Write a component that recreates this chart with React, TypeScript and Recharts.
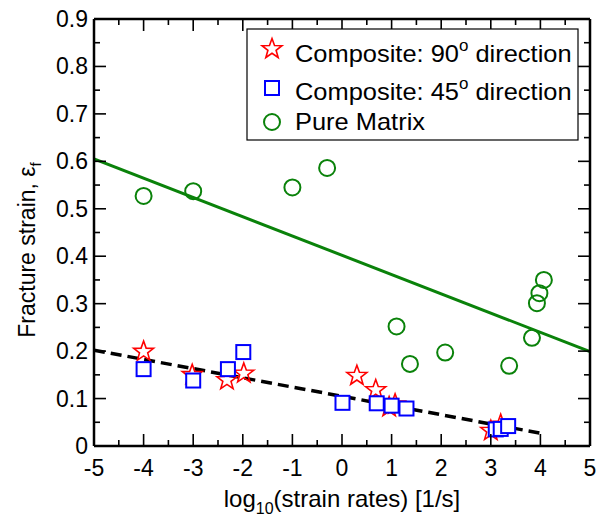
import React from 'react';
import { ComposedChart, XAxis, YAxis, Scatter, Line } from 'recharts';

const FONT = '"Liberation Sans", Arial, Helvetica, sans-serif';

// ---- tick values / labels ----
const xTicks = [-5, -4.5, -4, -3.5, -3, -2.5, -2, -1.5, -1, -0.5, 0, 0.5, 1, 1.5, 2, 2.5, 3, 3.5, 4, 4.5, 5];
const xMajorTicks = [-5, -4, -3, -2, -1, 0, 1, 2, 3, 4, 5];
const yTicks = [0, 0.05, 0.1, 0.15, 0.2, 0.25, 0.3, 0.35, 0.4, 0.45, 0.5, 0.55, 0.6, 0.65, 0.7, 0.75, 0.8, 0.85, 0.9];
const yMajorTicks = [0, 0.1, 0.2, 0.3, 0.4, 0.5, 0.6, 0.7, 0.8, 0.9];
const yTickLabels = ['0', '0.1', '0.2', '0.3', '0.4', '0.5', '0.6', '0.7', '0.8', '0.9'];

// ---- series ----
const dir90X = [-4, -3.02, -2.32, -1.98, 0.3, 0.68, 0.95, 1.07, 3.0, 3.2];
const dir90Y = [0.199, 0.15, 0.139, 0.153, 0.148, 0.118, 0.082, 0.088, 0.032, 0.045];

const dir45X = [-4, -3, -2.3, -1.99, 0.01, 0.7, 1.0, 1.3, 3.1, 3.2, 3.35];
const dir45Y = [0.162, 0.138, 0.162, 0.198, 0.091, 0.09, 0.085, 0.079, 0.035, 0.036, 0.042];

const matrixX = [-4, -3, -1, -0.3, 1.1, 1.37, 2.08, 3.37, 3.83, 3.93, 3.98, 4.07];
const matrixY = [0.527, 0.537, 0.545, 0.586, 0.252, 0.173, 0.197, 0.169, 0.228, 0.301, 0.322, 0.35];

const matrixFitX = [-5, 5];
const matrixFitY = [0.605, 0.199];
const compositeFitX = [-5, 4];
const compositeFitY = [0.202, 0.027];

const toPoints = (xs: number[], ys: number[]) => xs.map((x, i) => ({ x, y: ys[i] }));

const dir90Data = toPoints(dir90X, dir90Y);
const dir45Data = toPoints(dir45X, dir45Y);
const matrixData = toPoints(matrixX, matrixY);
const matrixFit = toPoints(matrixFitX, matrixFitY);
const compositeFit = toPoints(compositeFitX, compositeFitY);

const RED = '#ff0000';
const BLUE = '#0000ff';
const GREEN = '#0a820a';

const isXMajor = (v: number) => xMajorTicks.some((m) => Math.abs(m - v) < 1e-9);
const yMajorIndex = (v: number) => yMajorTicks.findIndex((m) => Math.abs(m - v) < 1e-9);

function starPath(cx: number, cy: number, ro: number, ri: number) {
  const pts: string[] = [];
  for (let i = 0; i < 10; i++) {
    const r = i % 2 === 0 ? ro : ri;
    const a = -Math.PI / 2 + (i * Math.PI) / 5;
    pts.push(`${cx + r * Math.cos(a)},${cy + r * Math.sin(a)}`);
  }
  return 'M' + pts.join('L') + 'Z';
}

const StarShape = (p: any) => (
  <path d={starPath(p.cx, p.cy, 10.5, 4.3)} fill="none" stroke={RED} strokeWidth={1.6} />
);
const SquareShape = (p: any) => (
  <rect x={p.cx - 7} y={p.cy - 7} width={14} height={14} fill="#fff" stroke={BLUE} strokeWidth={2} />
);
const CircleShape = (p: any) => (
  <circle cx={p.cx} cy={p.cy} r={8} fill="none" stroke={GREEN} strokeWidth={2} />
);

const MAJOR = 12;
const MINOR = 6;

const BottomTick = (p: any) => {
  const v = p.payload.value;
  const major = isXMajor(v);
  const x = Number(p.x);
  const y = Number(p.y);
  return (
    <g>
      <path d={`M${x},${y}V${y - (major ? MAJOR : MINOR)}`} style={{ stroke: '#000', strokeWidth: 1.6, fill: 'none' }} />
      {major && (
        <text x={x} y={y + 30} textAnchor="middle" fontSize={23} fontFamily={FONT} fill="#000" stroke="none">
          {String(v)}
        </text>
      )}
    </g>
  );
};
const TopTick = (p: any) => {
  const major = isXMajor(p.payload.value);
  const x = Number(p.x);
  const y = Number(p.y);
  return <path d={`M${x},${y}V${y + (major ? MAJOR : MINOR)}`} style={{ stroke: '#000', strokeWidth: 1.6, fill: 'none' }} />;
};
const LeftTick = (p: any) => {
  const idx = yMajorIndex(p.payload.value);
  const major = idx >= 0;
  const x = Number(p.x);
  const y = Number(p.y);
  return (
    <g>
      <path d={`M${x},${y}H${x + (major ? MAJOR : MINOR)}`} style={{ stroke: '#000', strokeWidth: 1.6, fill: 'none' }} />
      {major && (
        <text x={x - 6} y={y + 8} textAnchor="end" fontSize={23} fontFamily={FONT} fill="#000" stroke="none">
          {yTickLabels[idx]}
        </text>
      )}
    </g>
  );
};
const RightTick = (p: any) => {
  const major = yMajorIndex(p.payload.value) >= 0;
  const x = Number(p.x);
  const y = Number(p.y);
  return <path d={`M${x},${y}H${x - (major ? MAJOR : MINOR)}`} style={{ stroke: '#000', strokeWidth: 1.6, fill: 'none' }} />;
};

const XLabel = (p: any) => {
  const vb = p.viewBox;
  return (
    <text x={vb.x + vb.width / 2} y={vb.y + 61} textAnchor="middle" fontSize={24} fontFamily={FONT} fill="#000">
      log
      <tspan fontSize={16} dy={7}>10</tspan>
      <tspan dy={-7}>(strain rates) [1/s]</tspan>
    </text>
  );
};

const YLabel = (p: any) => {
  const vb = p.viewBox;
  const x = vb.x + 35;
  const y = vb.y + 231;
  return (
    <text x={x} y={y} transform={`rotate(-90, ${x}, ${y})`} textAnchor="middle" fontSize={23} fontFamily={FONT} fill="#000">
      Fracture strain, ε
      <tspan fontSize={15} dy={6}>f</tspan>
    </text>
  );
};

const LegendBox = () => (
  <svg width={333} height={113} style={{ position: 'absolute', left: 246, top: 28 }}>
    <rect x={1} y={1} width={331} height={111} fill="#fff" stroke="#000" strokeWidth={1.2} />
    <path d={starPath(26, 21, 10.5, 4.3)} fill="none" stroke={RED} strokeWidth={1.6} />
    <rect x={19} y={53} width={14} height={14} fill="none" stroke={BLUE} strokeWidth={2} />
    <circle cx={26} cy={94} r={8} fill="none" stroke={GREEN} strokeWidth={2} />
    <g transform="translate(49,0) scale(1.06,1)">
      <text x={0} y={34} fontSize={24} fontFamily={FONT} fill="#000">
        Composite: 90<tspan fontSize={16} dy={-11}>o</tspan>
        <tspan dy={11}> direction</tspan>
      </text>
      <text x={0} y={72} fontSize={24} fontFamily={FONT} fill="#000">
        Composite: 45<tspan fontSize={16} dy={-11}>o</tspan>
        <tspan dy={11}> direction</tspan>
      </text>
      <text x={0} y={102} fontSize={24} fontFamily={FONT} fill="#000">
        Pure Matrix
      </text>
    </g>
  </svg>
);

const AXIS_LINE = { stroke: '#000', strokeWidth: 2.5 };

export default function App() {
  return (
    <div style={{ position: 'absolute', left: 0, top: 0, width: 596, height: 518, background: '#fff' }}>
      <ComposedChart width={596} height={518} margin={{ top: 18, right: 5, bottom: 0, left: 0 }}>
        <XAxis
          xAxisId={0}
          type="number"
          dataKey="x"
          domain={[-5, 5]}
          ticks={xTicks}
          interval={0}
          height={72}
          tickSize={0}
          tickMargin={0}
          tickLine={false}
          tick={<BottomTick />}
          axisLine={AXIS_LINE}
          stroke="#000"
          strokeWidth={2.5}
          allowDataOverflow
          label={<XLabel />}
        />
        <XAxis
          xAxisId="top"
          orientation="top"
          type="number"
          dataKey="x"
          domain={[-5, 5]}
          ticks={xTicks}
          interval={0}
          height={1}
          tickSize={0}
          tickMargin={0}
          tickLine={false}
          tick={<TopTick />}
          axisLine={AXIS_LINE}
          stroke="#000"
          strokeWidth={2.5}
          allowDataOverflow
        />
        <YAxis
          yAxisId={0}
          type="number"
          domain={[0, 0.9]}
          ticks={yTicks}
          interval={0}
          width={94}
          tickSize={0}
          tickMargin={0}
          tickLine={false}
          tick={<LeftTick />}
          axisLine={AXIS_LINE}
          stroke="#000"
          strokeWidth={2.5}
          allowDataOverflow
          label={<YLabel />}
        />
        <YAxis
          yAxisId="right"
          orientation="right"
          type="number"
          domain={[0, 0.9]}
          ticks={yTicks}
          interval={0}
          width={1}
          tickSize={0}
          tickMargin={0}
          tickLine={false}
          tick={<RightTick />}
          axisLine={AXIS_LINE}
          stroke="#000"
          strokeWidth={2.5}
          allowDataOverflow
        />
        <Scatter name="Pure Matrix" data={matrixData} dataKey="y" shape={<CircleShape />} isAnimationActive={false} />
        <Scatter name="Composite: 90 direction" data={dir90Data} dataKey="y" shape={<StarShape />} isAnimationActive={false} />
        <Scatter name="Composite: 45 direction" data={dir45Data} dataKey="y" shape={<SquareShape />} isAnimationActive={false} />
        <Line
          data={matrixFit}
          dataKey="y"
          type="linear"
          stroke={GREEN}
          strokeWidth={3}
          dot={false}
          activeDot={false}
          isAnimationActive={false}
        />
        <Line
          data={compositeFit}
          dataKey="y"
          type="linear"
          stroke="#000"
          strokeWidth={3.5}
          strokeDasharray="11 6"
          dot={false}
          activeDot={false}
          isAnimationActive={false}
        />
      </ComposedChart>
      <LegendBox />
    </div>
  );
}
